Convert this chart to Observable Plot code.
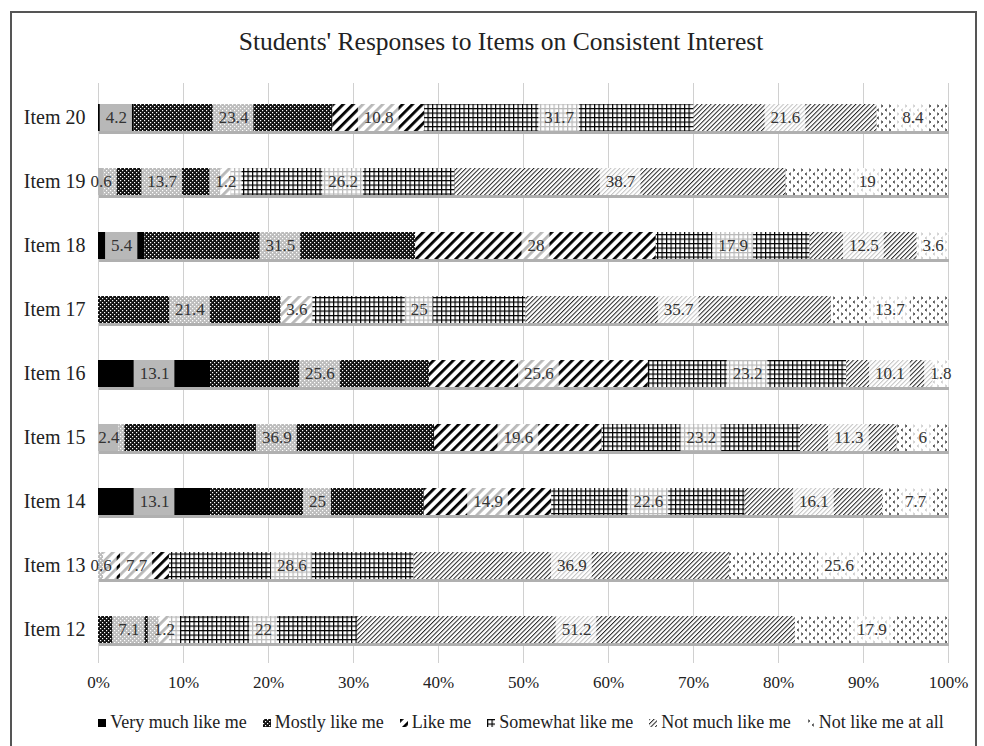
<!DOCTYPE html>
<html><head><meta charset="utf-8">
<script src="https://cdn.jsdelivr.net/npm/d3@7"></script>
<script src="https://cdn.jsdelivr.net/npm/@observablehq/plot@0.6"></script>
<style>
body{margin:0;background:#fff;font-family:"Liberation Serif","Times New Roman",serif;}
#wrap{position:relative;width:984px;height:746px;overflow:hidden;background:#fff;}
#frame{position:absolute;left:10px;top:11px;width:967px;height:745px;border:2px solid #555;box-sizing:border-box;}
#title{position:absolute;top:27px;left:0;width:1002px;text-align:center;font-size:25.5px;color:#222;}
#chart{position:absolute;left:0;top:0;}
#legend{position:absolute;top:706px;left:0;width:1042px;display:flex;justify-content:center;}
#legend [class*="swatch"]{margin-right:16px !important;}
#legend [class*="swatch"] > svg{margin-right:4px !important;}
#legend [class*="swatch"]:last-child{margin-right:0 !important;}
</style></head>
<body>
<svg width="0" height="0" style="position:absolute">
<defs>
<pattern id="p-mostly" width="4" height="4" patternUnits="userSpaceOnUse">
 <rect width="4" height="4" fill="#111"/>
 <rect x="0" y="0" width="1.2" height="1.2" fill="#fff"/>
 <rect x="2" y="2" width="1.2" height="1.2" fill="#fff"/>
</pattern>
<pattern id="p-like" width="7" height="7" patternUnits="userSpaceOnUse" patternTransform="rotate(45)">
 <rect width="7" height="7" fill="#fff"/>
 <rect width="2.8" height="7" fill="#000"/>
</pattern>
<pattern id="p-somewhat" width="4.5" height="4.5" patternUnits="userSpaceOnUse">
 <rect width="4.5" height="4.5" fill="#fff"/>
 <rect width="1.2" height="4.5" fill="#000"/>
 <rect width="4.5" height="1.2" fill="#000"/>
</pattern>
<pattern id="p-notmuch" width="3.2" height="3.2" patternUnits="userSpaceOnUse" patternTransform="rotate(45)">
 <rect width="3.2" height="3.2" fill="#fff"/>
 <rect width="1" height="3.2" fill="#222"/>
</pattern>
<pattern id="p-notatall" width="8" height="8" patternUnits="userSpaceOnUse">
 <rect width="8" height="8" fill="#fff"/>
 <path d="M1,0.8 L2.8,2 L1,3.2 M7,4.8 L5.2,6 L7,7.2" stroke="#000" stroke-width="0.9" fill="none"/>
</pattern>
</defs></svg>
<div id="wrap">
 <div id="frame"></div>
 <div id="chart"></div>
 <div id="title">Students' Responses to Items on Consistent Interest</div>
 <div id="legend"></div>
</div>
<script>
const items = ["Item 20","Item 19","Item 18","Item 17","Item 16","Item 15","Item 14","Item 13","Item 12"];
const categories = ["Very much like me","Mostly like me","Like me","Somewhat like me","Not much like me","Not like me at all"];
const veryMuch = [4.2, 0.6, 5.4, 0, 13.1, 2.4, 13.1, 0, 0];
const mostly   = [23.4, 13.7, 31.5, 21.4, 25.6, 36.9, 25, 0.6, 7.1];
const likeMe   = [10.8, 1.2, 28, 3.6, 25.6, 19.6, 14.9, 7.7, 1.2];
const somewhat = [31.7, 26.2, 17.9, 25, 23.2, 23.2, 22.6, 28.6, 22];
const notMuch  = [21.6, 38.7, 12.5, 35.7, 10.1, 11.3, 16.1, 36.9, 51.2];
const notAtAll = [8.4, 19, 3.6, 13.7, 1.8, 6, 7.7, 25.6, 17.9];
const xTicks = [0,10,20,30,40,50,60,70,80,90,100];
const fills = ["#000","url(#p-mostly)","url(#p-like)","url(#p-somewhat)","url(#p-notmuch)","url(#p-notatall)"];

const series = [veryMuch, mostly, likeMe, somewhat, notMuch, notAtAll];
const rows = [];
items.forEach((item, i) => {
  const vals = series.map(s => s[i]);
  const total = d3.sum(vals);
  let cum = 0;
  vals.forEach((v, j) => {
    const x1 = cum / total * 100; cum += v; const x2 = cum / total * 100;
    if (v > 0) rows.push({item, cat: categories[j], value: v, x1, x2, mid: (x1 + x2) / 2});
  });
});
// label box half-width in percent units (approx. text width + padding)
const pctPerPx = 100 / 850;
function textW(s){ let w = 0; for (const c of s) w += (c === ".") ? 4.25 : 8.5; return w; }
rows.forEach(d => { const half = (textW(String(d.value)) + 11) / 2 * pctPerPx; d.lx1 = d.mid - half; d.lx2 = d.mid + half; });

const chart = Plot.plot({
  width: 984, height: 700,
  marginLeft: 98, marginRight: 36, marginTop: 83, marginBottom: 37,
  style: {fontFamily: "Liberation Serif", fontSize: "17px", color: "#222", background: "transparent"},
  x: {domain: [0, 100], label: null},
  y: {domain: items, paddingInner: 0.58, paddingOuter: 0.304, label: null},
  color: {domain: categories, range: fills},
  marks: [
    Plot.ruleX(xTicks, {stroke: "#d0d0d0", strokeWidth: 1}),
    Plot.barX(items, {x1: () => 0, x2: () => 100, y: d => d, fill: "#b0b0b0", dy: 3, dx: 1}),
    Plot.barX(rows, {x1: "x1", x2: "x2", y: "item", fill: "cat"}),
    Plot.barX(rows, {x1: "lx1", x2: "lx2", y: "item", fill: "white", fillOpacity: 0.72}),
    Plot.text(rows, {x: "mid", y: "item", text: d => String(d.value), fill: "#333", fontSize: 17}),
    Plot.axisX({ticks: xTicks, tickFormat: d => d + "%", tickSize: 0, tickPadding: 12, fontSize: 17, label: null}),
    Plot.axisY({tickSize: 0, tickPadding: 13, fontSize: 20, label: null})
  ]
});
document.getElementById("chart").appendChild(chart);

const legend = Plot.legend({
  color: {type: "ordinal", domain: categories, range: fills},
  swatchSize: 8,
  style: {fontFamily: "Liberation Serif", fontSize: "18px", color: "#222", background: "transparent"}
});
document.getElementById("legend").appendChild(legend);
</script>
</body></html>
